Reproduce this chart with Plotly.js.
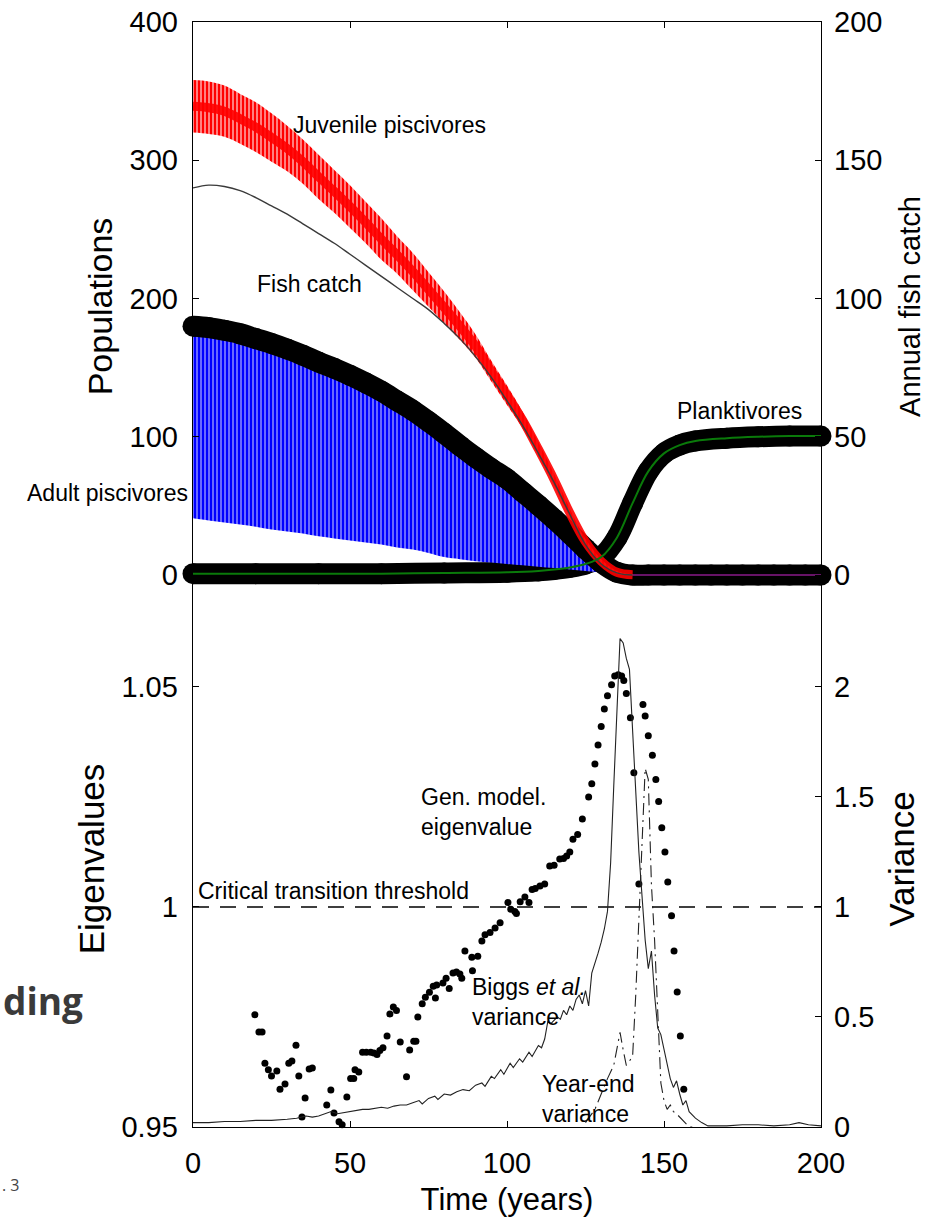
<!DOCTYPE html>
<html>
<head>
<meta charset="utf-8">
<script src="https://cdn.plot.ly/plotly-3.0.1.min.js"></script>
<style>
  html, body { margin: 0; padding: 0; background: #ffffff; }
  #chart { width: 926px; height: 1225px; }
</style>
</head>
<body>
<div id="chart"></div>
<script>
// ---------------- Top panel data ----------------
const tJuv = [0,5,10,15,20,25,30,35,40,45,50,55,60,65,70,75,80,85,90,95,100,105,110,115,120,125,130,135,140];
const juvUpper = [358,357,354,348,342,334,325,315,304,293,282,270,258,245,233,219,205,190,174,155,137,118,96,73,48,26,11.5,3,0.5];
const juvLower = [320,319,317,312,306,299,292,283,272,262,251,240,228,218,206,194,182,170,157,140,123,106,86,65,42,22,8.5,1,0];
const fishCatch = [140,141,140.5,139,136.5,133.5,130.5,127,123.5,120,116,112,108,104,100,96,91,85.5,79,71.5,63,54,44,33.5,22,11,4,0.8,0];

const tAdult = [0,5,10,15,20,25,30,35,40,45,50,55,60,65,70,75,80,85,90,95,100,105,110,115,120,125,130,135,140,145,150,155,160,165,170,175,180,185,190,195,200];
const adultTotal = [180,179,177,174.5,171,167.5,163.5,159,154,149.5,144.5,139,133,126,119,111,102.5,93.5,85,77,69.5,60,50.5,40.5,30,19,9,2,0,0,0,0,0,0,0,0,0,0,0,0,0];
const tBlue = [0,5,10,15,20,25,30,35,40,45,50,55,60,65,70,75,80,85,90,95,100,105,110,115,120,125,130,135];
const adultLow = [41,39.5,38,36.5,35,33,31.5,30,28,26.5,25,23.5,22,20,18.5,16,13,11.5,10,9,8,7,6,5,4,3,2,0.5];

const tPlank = [0,20,40,60,80,100,110,115,120,125,130,135,140,145,150,155,160,170,180,190,200];
const plankVals = [1,1,1,1,1.5,2,3,4,5.5,8,13,27,52,75,88,94,97,99,100,100.5,100.5];

const tResidual = [138,200];
const residualVals = [0,0];

// ---------------- Bottom panel data ----------------
const tEig = [19.7,21.0,22.0,22.9,24.0,25.0,26.7,27.7,29.3,30.5,31.5,32.8,33.7,34.7,35.7,37.0,38.0,42.6,43.9,44.9,46.5,47.5,49.0,50.2,51.2,51.6,52.8,54.0,55.2,56.6,57.6,58.6,59.5,60.5,61.8,62.7,63.8,64.8,66.0,68.0,69.0,70.3,71.0,71.6,73.0,74.0,75.3,76.5,77.2,77.6,79.6,80.6,81.6,82.8,83.9,85.0,85.6,86.6,88.8,89.0,90.7,92.0,93.0,94.6,96.2,97.8,100.3,101.2,102.5,103.0,104.2,105.7,107.0,108.0,109.0,110.5,112.0,113.6,115.0,116.8,118.0,119.0,120.0,121.0,122.5,124.0,126.0,127.0,128.0,129.0,130.0,131.0,132.0,133.3,134.3,135.4,136.5,137.2,138.0,139.3,140.4,142.0,143.3,144.0,145.0,146.3,147.4,148.3,149.3,150.3,151.2,152.4,153.2,154.2,155.2,156.3];
const eigVals = [0.9755,0.9716,0.9716,0.9645,0.963,0.9616,0.9627,0.9586,0.9598,0.9645,0.965,0.9686,0.9616,0.9523,0.9566,0.9632,0.9634,0.955,0.9584,0.9532,0.9512,0.9505,0.9568,0.961,0.961,0.963,0.9625,0.967,0.967,0.967,0.9668,0.9665,0.9674,0.968,0.9707,0.9757,0.9773,0.9765,0.9693,0.9614,0.9675,0.9695,0.9695,0.975,0.978,0.9795,0.9806,0.982,0.9793,0.9823,0.9827,0.9838,0.9815,0.985,0.9852,0.9848,0.9838,0.99,0.9886,0.9855,0.9888,0.9923,0.9937,0.9942,0.9952,0.9964,1.001,0.9995,0.999,0.9985,1.0012,1.0023,1.001,1.004,1.0042,1.0048,1.0052,1.0093,1.0095,1.0109,1.011,1.0116,1.0125,1.0154,1.0165,1.02,1.025,1.028,1.0325,1.0368,1.041,1.045,1.048,1.0505,1.0525,1.0528,1.0525,1.0515,1.0485,1.043,1.0305,1.0052,1.046,1.0434,1.0389,1.0345,1.029,1.024,1.018,1.0125,1.0057,0.998,0.990,0.9807,0.9707,0.9586];

const tBiggs = [0,5,10,15,20,25,30,33,36,38,40,42,44,46,48,50,52,54,56,58,60,62,64,66,68,70,72,73,75,77,78,80,82,84,86,88,90,92,93,95,96,98,99,101,102,104,105,107,108,110,111,112,113,114,116,117,118,119,120,121,122,123,124,125,126,127,128,129,130,131,132,133,134,135,136,137,138,139,140,141,142,143,144,145,146,147,148,149,150,151,152,153,154,155,156,157,158,160,162,164,170,175,180,185,190,193,196,200];
const biggsVar = [0.02,0.02,0.025,0.025,0.03,0.03,0.035,0.04,0.05,0.045,0.05,0.06,0.07,0.06,0.065,0.07,0.075,0.08,0.08,0.085,0.09,0.085,0.095,0.1,0.1,0.11,0.12,0.105,0.13,0.14,0.125,0.15,0.145,0.16,0.17,0.165,0.19,0.2,0.185,0.23,0.22,0.26,0.24,0.29,0.27,0.31,0.295,0.34,0.32,0.37,0.36,0.4,0.48,0.47,0.5,0.49,0.53,0.51,0.55,0.53,0.58,0.6,0.56,0.62,0.55,0.7,0.74,0.79,0.84,0.9,0.98,1.2,1.55,1.9,2.22,2.2,2.13,2.08,1.8,1.55,1.25,1.05,0.85,0.72,0.8,0.6,0.45,0.42,0.35,0.28,0.22,0.18,0.21,0.15,0.1,0.12,0.07,0.04,0.02,0.005,0.005,0.01,0.01,0.005,0.01,0.02,0.01,0.005];

const tYearEnd = [125,128,130,132,134,135,136,137,138,139,140,141,142,143,144,145,146,147,148,149,150,151,152,153,154,156,158,160];
const yearEndVar = [0.02,0.08,0.15,0.22,0.28,0.36,0.43,0.35,0.28,0.3,0.32,0.6,0.95,1.35,1.63,1.58,1.1,0.85,0.5,0.2,0.12,0.08,0.1,0.07,0.06,0.03,0.0,0.0];

const tThreshold = [0,200];
const thresholdEig = [1,1];

// ---------------- Tick labels ----------------
const xTicks = [0,50,100,150,200];
const popTicks = [0,100,200,300,400];
const catchTicks = [0,50,100,150,200];
const eigTicks = [0.95,1,1.05];
const eigTickText = ['0.95','1','1.05'];
const varTicks = [0,0.5,1,1.5,2];
const varTickText = ['0','0.5','1','1.5','2'];

// ---------------- Traces ----------------
const juvCenter = juvUpper.map((u,i)=> (u + juvLower[i]) / 2);
const traces = [
  {x:tPlank, y:plankVals, xaxis:'x', yaxis:'y', mode:'lines+markers', line:{color:'#000', width:21, shape:'spline'}, marker:{color:'#000', size:21}, cliponaxis:false, hoverinfo:'skip'},
  {x:tBlue, y:adultLow, xaxis:'x', yaxis:'y', mode:'lines', line:{width:0, shape:'spline'}, hoverinfo:'skip'},
  {x:tBlue, y:adultTotal.slice(0, tBlue.length), xaxis:'x', yaxis:'y', mode:'lines', line:{width:0, shape:'spline'}, fill:'tonexty', fillcolor:'#6a6aff',
    fillpattern:{shape:'|', bgcolor:'#8585ff', fgcolor:'#0000ff', size:4, solidity:0.6}, hoverinfo:'skip'},
  {x:tAdult, y:adultTotal, xaxis:'x', yaxis:'y', mode:'lines+markers', line:{color:'#000', width:21, shape:'spline'}, marker:{color:'#000', size:21}, cliponaxis:false, hoverinfo:'skip'},
  {x:tResidual, y:residualVals, xaxis:'x', yaxis:'y', mode:'lines', line:{color:'#8a1a8a', width:1.5}, hoverinfo:'skip'},
  {x:tJuv, y:juvLower, xaxis:'x', yaxis:'y', mode:'lines', line:{width:0, shape:'spline'}, hoverinfo:'skip'},
  {x:tJuv, y:juvUpper, xaxis:'x', yaxis:'y', mode:'lines', line:{width:0, shape:'spline'}, fill:'tonexty', fillcolor:'#ff8080',
    fillpattern:{shape:'|', bgcolor:'#ffa0a0', fgcolor:'#ff0000', size:4, solidity:0.6}, hoverinfo:'skip'},
  {x:tJuv, y:juvCenter, xaxis:'x', yaxis:'y', mode:'lines', line:{color:'rgba(255,0,0,0.9)', width:9, shape:'spline'}, hoverinfo:'skip'},
  {x:tJuv, y:fishCatch, xaxis:'x', yaxis:'y2', mode:'lines', line:{color:'#3a3a3a', width:1.4, shape:'spline'}, hoverinfo:'skip'},
  {x:tPlank, y:plankVals, xaxis:'x', yaxis:'y', mode:'lines', line:{color:'#0a7a0a', width:2, shape:'spline'}, hoverinfo:'skip'},

  {x:tThreshold, y:thresholdEig, xaxis:'x2', yaxis:'y3', mode:'lines', line:{color:'#000', width:1.3, dash:'16px,11px'}, hoverinfo:'skip'},
  {x:tBiggs, y:biggsVar, xaxis:'x2', yaxis:'y4', mode:'lines', line:{color:'#222', width:1.1}, hoverinfo:'skip'},
  {x:tYearEnd, y:yearEndVar, xaxis:'x2', yaxis:'y4', mode:'lines', line:{color:'#222', width:1.1, dash:'12px,5px,2px,5px'}, hoverinfo:'skip'},
  {x:tEig, y:eigVals, xaxis:'x2', yaxis:'y3', mode:'markers', marker:{color:'#000', size:7}, cliponaxis:false, hoverinfo:'skip'}
];

const FONT = 'Arial, "Liberation Sans", sans-serif';
const tickFont = {family: FONT, size: 29, color: '#000'};
const annFont = {family: FONT, size: 23, color: '#000'};
const split = 0.48507;

const layout = {
  width: 926, height: 1225,
  margin: {l:193, r:105, t:22, b:98, pad:0},
  paper_bgcolor: '#fff', plot_bgcolor: '#fff',
  showlegend: false,
  font: {family: FONT, color:'#000'},
  xaxis: {domain:[0,1], anchor:'y', side:'top', range:[0,200], tickvals:xTicks, showticklabels:false,
          ticks:'inside', ticklen:6, tickcolor:'#000', showline:true, linecolor:'#000', linewidth:1.3,
          showgrid:false, zeroline:false, fixedrange:true},
  yaxis: {domain:[split,1], anchor:'x', range:[-11.55,400], tickvals:popTicks, ticks:'inside', ticklen:6,
          tickcolor:'#000', showline:true, linecolor:'#000', linewidth:1.3, showgrid:false, zeroline:false,
          tickfont:tickFont, ticklabelstandoff:8,
          title:{text:'Populations', font:{family:FONT, size:34, color:'#000'}, standoff:6}},
  yaxis2: {overlaying:'y', side:'right', anchor:'x', range:[-5.775,200], tickvals:catchTicks, ticks:'inside', ticklen:6,
          tickcolor:'#000', showline:true, linecolor:'#000', linewidth:1.3, showgrid:false, zeroline:false,
          tickfont:tickFont, ticklabelstandoff:6,
          title:{text:'Annual fish catch', font:{family:FONT, size:29, color:'#000'}, standoff:20}},
  xaxis2: {domain:[0,1], anchor:'y3', side:'bottom', range:[0,200], tickvals:xTicks, ticks:'inside', ticklen:6,
          tickcolor:'#000', showline:true, linecolor:'#000', linewidth:1.3, showgrid:false, zeroline:false,
          tickfont:tickFont, ticklabelstandoff:10,
          title:{text:'Time (years)', font:{family:FONT, size:31, color:'#000'}, standoff:10}},
  yaxis3: {domain:[0,split], anchor:'x2', range:[0.95,1.071818], tickvals:eigTicks, ticktext:eigTickText, ticks:'inside', ticklen:6,
          tickcolor:'#000', showline:true, linecolor:'#000', linewidth:1.3, showgrid:false, zeroline:false,
          tickfont:tickFont, ticklabelstandoff:8,
          title:{text:'Eigenvalues', font:{family:FONT, size:35, color:'#000'}, standoff:6}},
  yaxis4: {overlaying:'y3', side:'right', anchor:'x2', range:[0,2.43636], tickvals:varTicks, ticktext:varTickText, ticks:'inside', ticklen:6,
          tickcolor:'#000', showline:true, linecolor:'#000', linewidth:1.3, showgrid:false, zeroline:false,
          tickfont:tickFont, ticklabelstandoff:6,
          title:{text:'Variance', font:{family:FONT, size:35, color:'#000'}, standoff:16}},
  annotations: [
    {text:'Juvenile piscivores', xref:'paper', yref:'paper', x:0.156, y:0.9068, xanchor:'left', yanchor:'middle', showarrow:false, font:annFont},
    {text:'Fish catch', xref:'paper', yref:'paper', x:0.0987, y:0.7629, xanchor:'left', yanchor:'middle', showarrow:false, font:annFont},
    {text:'Adult piscivores', xref:'paper', yref:'paper', x:-0.0048, y:0.5738, xanchor:'right', yanchor:'middle', showarrow:false, font:annFont},
    {text:'Planktivores', xref:'paper', yref:'paper', x:0.7675, y:0.648, xanchor:'left', yanchor:'middle', showarrow:false, font:annFont},
    {text:'Gen. model.<br>eigenvalue', xref:'paper', yref:'paper', x:0.3599, y:0.2851, xanchor:'left', yanchor:'middle', align:'left', showarrow:false, font:annFont},
    {text:'Critical transition threshold', xref:'paper', yref:'paper', x:0.0048, y:0.2136, xanchor:'left', yanchor:'middle', showarrow:false, font:annFont},
    {text:'Biggs <i>et al.</i><br>variance', xref:'paper', yref:'paper', x:0.4411, y:0.1131, xanchor:'left', yanchor:'middle', align:'left', showarrow:false, font:annFont},
    {text:'Year-end<br>variance', xref:'paper', yref:'paper', x:0.5525, y:0.0253, xanchor:'left', yanchor:'middle', align:'left', showarrow:false, font:annFont},
    {text:'<b>ding</b>', xref:'paper', yref:'paper', x:-0.3065, y:0.1149, xanchor:'left', yanchor:'middle', showarrow:false, font:{family:'"Open Sans", sans-serif', size:37, color:'#3a3a3a'}},
    {text:'. 3', xref:'paper', yref:'paper', x:-0.3073, y:-0.0525, xanchor:'left', yanchor:'middle', showarrow:false, font:{family:'"Open Sans", sans-serif', size:16, color:'#444'}}
  ]
};

Plotly.newPlot('chart', traces, layout, {staticPlot:true, displayModeBar:false});
</script>
</body>
</html>
